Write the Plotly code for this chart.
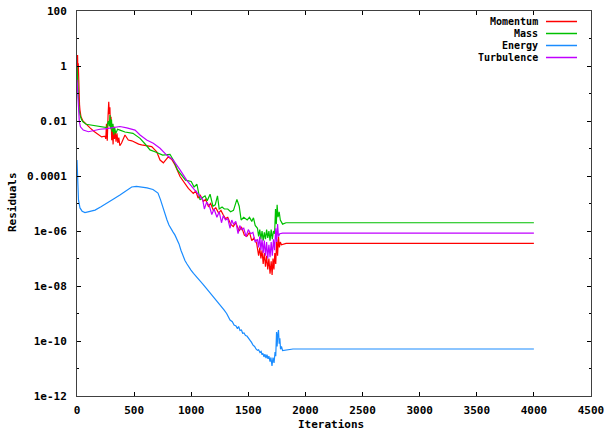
import plotly.graph_objects as go

# ---- data (residuals given as log10 values) ----
momentum_iter = [0, 3, 5, 8, 11, 14, 17, 22, 26, 35,
                 52, 80, 114, 150, 172, 216, 245, 252, 258, 265,
                 272, 278, 283, 288, 293, 298, 304, 310, 316, 322,
                 328, 335, 342, 350, 358, 366, 375, 390, 420, 449,
                 480, 508, 540, 566, 610, 654, 698, 727, 756, 799,
                 830, 858, 902, 940, 975, 1018, 1040, 1060, 1080, 1106,
                 1125, 1150, 1170, 1193, 1215, 1240, 1260, 1281, 1300, 1320,
                 1345, 1368, 1390, 1420, 1440, 1465, 1486, 1510, 1530, 1550,
                 1573, 1590, 1600, 1610, 1620, 1630, 1640, 1650, 1660, 1670,
                 1680, 1690, 1700, 1708, 1716, 1724, 1732, 1740, 1748, 1756,
                 1764, 1772, 1780, 1790, 1806, 1830, 4000]
momentum_log = [0.25, -0.6, 0.4, -0.3, 0.1, -0.8, -1.05, -1.4, -1.6, -1.85,
                -2.0, -2.12, -2.25, -2.38, -2.44, -2.58, -2.55, -2.65, -2.1, -2.72,
                -1.8, -1.3, -1.75, -1.5, -2.2, -1.85, -2.7, -2.3, -2.85, -2.2,
                -2.65, -2.4, -2.75, -2.45, -2.8, -2.6, -2.9, -2.8, -2.51, -2.69,
                -2.72, -2.79, -2.84, -2.87, -2.9, -2.93, -3.12, -3.42, -3.52, -3.3,
                -3.4, -3.6, -4.02, -4.25, -4.45, -4.63, -4.55, -4.8, -4.7, -4.93,
                -4.85, -5.1, -5.0, -5.24, -5.15, -5.35, -5.25, -5.42, -5.55, -5.5,
                -5.75, -5.84, -5.7, -6.0, -5.85, -6.15, -6.2, -6.05, -6.35, -6.25,
                -6.45, -6.9, -6.6, -7.0, -6.7, -7.2, -6.8, -7.3, -6.9, -7.4,
                -7.0, -7.55, -7.1, -7.6, -7.0, -7.4, -6.8, -7.2, -6.3, -6.9,
                -6.2, -6.6, -6.4, -6.5, -6.47, -6.45, -6.45]

mass_iter = [0, 3, 6, 10, 15, 20, 26, 40, 52, 80,
             128, 201, 260, 268, 275, 282, 289, 295, 302, 308,
             315, 322, 330, 340, 355, 376, 420, 490, 552, 610,
             639, 682, 750, 814, 843, 880, 950, 1000, 1025, 1050,
             1077, 1100, 1121, 1140, 1165, 1190, 1210, 1230, 1245, 1270,
             1290, 1320, 1345, 1370, 1400, 1420, 1437, 1460, 1490, 1510,
             1530, 1545, 1560, 1580, 1590, 1600, 1610, 1620, 1630, 1640,
             1650, 1660, 1670, 1680, 1690, 1700, 1710, 1720, 1730, 1738,
             1745, 1752, 1760, 1770, 1780, 1800, 1830, 4000]
mass_log = [0.0, -0.4, -0.2, -0.9, -1.3, -1.6, -1.78, -1.95, -2.03, -2.12,
            -2.15, -2.21, -2.24, -2.1, -2.0, -2.2, -1.78, -2.3, -1.95, -2.4,
            -2.1, -2.5, -2.25, -2.45, -2.3, -2.33, -2.4, -2.45, -2.63, -2.9,
            -3.05, -3.12, -3.24, -3.21, -3.42, -3.78, -4.15, -4.2, -4.4, -4.3,
            -4.87, -4.78, -4.72, -4.9, -4.66, -5.1, -5.05, -4.72, -5.2, -5.13,
            -5.2, -5.2, -5.3, -5.25, -4.85, -5.1, -5.6, -5.5, -5.6, -5.5,
            -5.65, -5.52, -5.8, -5.9, -6.2, -5.95, -6.3, -6.0, -6.35, -6.05,
            -6.3, -5.95, -6.25, -6.0, -6.35, -5.95, -6.3, -6.0, -6.1, -5.2,
            -5.75, -5.05, -5.5, -5.3, -5.6, -5.75, -5.7, -5.7]

energy_iter = [0, 5, 13, 26, 45, 70, 110, 158, 210, 271,
               320, 376, 430, 479, 520, 552, 613, 665, 709, 730,
               753, 770, 788, 805, 823, 840, 858, 875, 893, 910,
               928, 945, 963, 980, 998, 1020, 1042, 1060, 1077, 1100,
               1129, 1155, 1182, 1210, 1234, 1260, 1287, 1310, 1340, 1360,
               1375, 1392, 1405, 1415, 1427, 1440, 1450, 1462, 1475, 1488,
               1500, 1515, 1528, 1541, 1555, 1567, 1580, 1590, 1602, 1612,
               1620, 1628, 1637, 1645, 1655, 1663, 1672, 1680, 1690, 1698,
               1707, 1716, 1725, 1734, 1740, 1747, 1752, 1757, 1764, 1770,
               1776, 1782, 1790, 1800, 1829, 1891, 4000]
energy_log = [-3.42, -4.15, -4.87, -5.16, -5.28, -5.33, -5.3, -5.24, -5.12, -4.98,
              -4.84, -4.69, -4.53, -4.40, -4.38, -4.39, -4.43, -4.49, -4.62, -4.85,
              -5.16, -5.42, -5.6, -5.78, -5.93, -6.03, -6.15, -6.3, -6.47, -6.7,
              -6.91, -7.07, -7.2, -7.32, -7.42, -7.54, -7.64, -7.71, -7.78, -7.92,
              -8.07, -8.2, -8.33, -8.45, -8.58, -8.7, -8.87, -9.0, -9.24, -9.3,
              -9.42, -9.45, -9.55, -9.47, -9.62, -9.6, -9.72, -9.71, -9.8, -9.82,
              -9.88, -9.96, -10.05, -10.15, -10.2, -10.29, -10.34, -10.32, -10.42, -10.38,
              -10.5, -10.45, -10.58, -10.48, -10.62, -10.5, -10.65, -10.55, -10.75, -10.6,
              -10.91, -10.6, -10.8, -10.4, -10.55, -9.67, -10.2, -9.8, -9.6, -10.1,
              -9.9, -10.3, -10.2, -10.35, -10.33, -10.29, -10.29]

turb_iter = [0, 5, 10, 20, 30, 55, 100, 158, 201, 260,
             325, 376, 436, 508, 552, 610, 668, 727, 785, 843,
             902, 960, 1018, 1050, 1077, 1100, 1115, 1135, 1160, 1180,
             1200, 1225, 1245, 1265, 1280, 1300, 1320, 1340, 1355, 1370,
             1390, 1410, 1425, 1440, 1460, 1480, 1500, 1520, 1540, 1560,
             1580, 1590, 1600, 1610, 1620, 1630, 1640, 1650, 1660, 1670,
             1680, 1690, 1700, 1710, 1720, 1730, 1740, 1748, 1756, 1764,
             1775, 1800, 4000]
turb_log = [-0.5, -1.0, -1.5, -2.0, -2.21, -2.33, -2.39, -2.33, -2.3, -2.28,
            -2.22, -2.2, -2.25, -2.33, -2.51, -2.69, -2.81, -2.99, -3.24, -3.42,
            -3.78, -4.15, -4.45, -4.6, -4.75, -4.85, -5.2, -4.95, -5.1, -5.4,
            -5.2, -5.5, -5.3, -5.7, -5.45, -5.6, -5.55, -5.9, -5.6, -5.75,
            -5.65, -6.1, -5.8, -5.95, -5.9, -6.2, -5.95, -6.1, -6.05, -6.4,
            -6.3, -6.6, -6.2, -6.7, -6.3, -6.8, -6.35, -6.9, -6.4, -7.0,
            -6.5, -6.95, -6.4, -6.9, -6.3, -6.7, -5.9, -6.4, -5.75, -6.2,
            -6.1, -6.08, -6.08]

series_names = ["Momentum", "Mass", "Energy", "Turbulence"]
series_colors = ["#ff0000", "#00c000", "#1a8cff", "#c000ff"]

y_tick_vals = [-12, -10, -8, -6, -4, -2, 0, 2]
y_tick_text = ["1e-12", "1e-10", "1e-08", "1e-06", "0.0001", "0.01", "1", "100"]
y_minor_vals = [-11, -9, -7, -5, -3, -1, 1]
x_tick_vals = [0, 500, 1000, 1500, 2000, 2500, 3000, 3500, 4000, 4500]

FONT = dict(family="DejaVu Sans Mono", size=11, color="black", weight="bold")
LEG_FONT = dict(family="DejaVu Sans Mono", size=10, color="black", weight="bold")

fig = go.Figure()
data = [(momentum_iter, momentum_log), (mass_iter, mass_log),
        (energy_iter, energy_log), (turb_iter, turb_log)]
for (xs, ys), name, col in zip(data, series_names, series_colors):
    fig.add_trace(go.Scatter(x=xs, y=ys, mode="lines", name=name,
                             line=dict(color=col, width=1.2), showlegend=False))

W, H = 607, 439
L, R, T, B = 77, 16, 11, 43
pw, ph = W - L - R, H - T - B

def px(xp):
    return (xp - L) / pw

def py(yp):
    return (H - B - yp) / ph

# legend drawn gnuplot-style (text right, sample line on the right)
leg_rows = [21.5, 33.5, 45.5, 57.5]
for name, col, yr in zip(series_names, series_colors, leg_rows):
    fig.add_annotation(x=px(539), y=py(yr), xref="paper", yref="paper",
                       text=name, showarrow=False, xanchor="right",
                       yanchor="middle", font=LEG_FONT, borderpad=0)
    fig.add_shape(type="line", xref="paper", yref="paper",
                  x0=px(546), x1=px(577), y0=py(yr), y1=py(yr),
                  line=dict(color=col, width=1.5), layer="above")

# axis titles
fig.add_annotation(x=px(331), y=py(425), xref="paper", yref="paper",
                   text="Iterations", showarrow=False, xanchor="center",
                   yanchor="middle", font=FONT)
fig.add_annotation(x=px(12), y=py(202), xref="paper", yref="paper",
                   text="Residuals", showarrow=False, textangle=-90,
                   xanchor="center", yanchor="middle", font=FONT)

axis_common = dict(showgrid=False, zeroline=False, showline=True,
                   linecolor="#404040", linewidth=1, mirror="allticks",
                   ticks="inside", tickcolor="black", tickfont=FONT,
                   automargin=False)

fig.update_xaxes(range=[0, 4500], tickvals=x_tick_vals, ticklen=4,
                 ticklabelstandoff=4, **axis_common)
fig.update_yaxes(range=[-12, 2], tickvals=y_tick_vals, ticktext=y_tick_text,
                 ticklen=4, ticklabelstandoff=7,
                 minor=dict(tickvals=y_minor_vals, ticklen=2, ticks="inside",
                            tickcolor="black"),
                 **axis_common)

fig.update_layout(width=W, height=H, margin=dict(l=L, r=R, t=T, b=B, autoexpand=False),
                  paper_bgcolor="white", plot_bgcolor="white", font=FONT,
                  showlegend=False)

fig.write_html("out.html")
